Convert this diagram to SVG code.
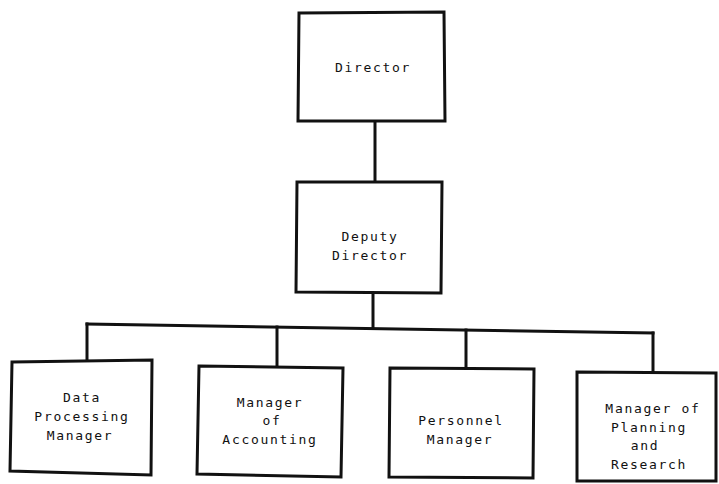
<svg xmlns="http://www.w3.org/2000/svg" width="719" height="484" viewBox="0 0 719 484">
  <style>
    .box { fill: #ffffff; stroke: #111111; stroke-width: 3; stroke-linejoin: miter; }
    .wire { fill: none; stroke: #111111; stroke-width: 3; stroke-linecap: square; }
    .lbl { font-family: "DejaVu Sans Mono", "Liberation Mono", monospace; font-size: 13px; letter-spacing: 1.7px; fill: #111111; text-anchor: middle; }
  </style>
  <rect width="719" height="484" fill="#ffffff"/>

  <!-- reporting lines -->
  <g id="connectors">
    <path class="wire" d="M375,121 L375,182"/>
    <path class="wire" d="M373,293 L373,328"/>
    <path class="wire" d="M87,324 L653,333"/>
    <path class="wire" d="M87,324 L87,361"/>
    <path class="wire" d="M277,327 L277,366"/>
    <path class="wire" d="M466,330 L466,368"/>
    <path class="wire" d="M653,333 L653,372"/>
  </g>

  <g id="director">
    <path class="box" d="M299,13 L444,12 L445,121 L298,121 Z"/>
    <text class="lbl" x="373" y="72">Director</text>
  </g>

  <g id="deputy-director">
    <path class="box" d="M297,182 L442,182 L441,293 L296,292 Z"/>
    <text class="lbl" x="370" y="241">Deputy</text>
    <text class="lbl" x="370" y="260">Director</text>
  </g>

  <g id="data-processing-manager">
    <path class="box" d="M12,362 L152,360 L151,475 L10,471 Z"/>
    <text class="lbl" x="82" y="402">Data</text>
    <text class="lbl" x="82" y="421">Processing</text>
    <text class="lbl" x="80" y="440">Manager</text>
  </g>

  <g id="manager-of-accounting">
    <path class="box" d="M199,366 L343,368 L341,477 L197,474 Z"/>
    <text class="lbl" x="270" y="407">Manager</text>
    <text class="lbl" x="272" y="425">of</text>
    <text class="lbl" x="270" y="444">Accounting</text>
  </g>

  <g id="personnel-manager">
    <path class="box" d="M390,368 L534,369 L533,478 L389,477 Z"/>
    <text class="lbl" x="461" y="425">Personnel</text>
    <text class="lbl" x="460" y="444">Manager</text>
  </g>

  <g id="manager-of-planning-and-research">
    <path class="box" d="M577,372 L716,373 L716,481 L577,481 Z"/>
    <text class="lbl" x="653" y="413">Manager of</text>
    <text class="lbl" x="649" y="432">Planning</text>
    <text class="lbl" x="645" y="450">and</text>
    <text class="lbl" x="649" y="469">Research</text>
  </g>
</svg>
